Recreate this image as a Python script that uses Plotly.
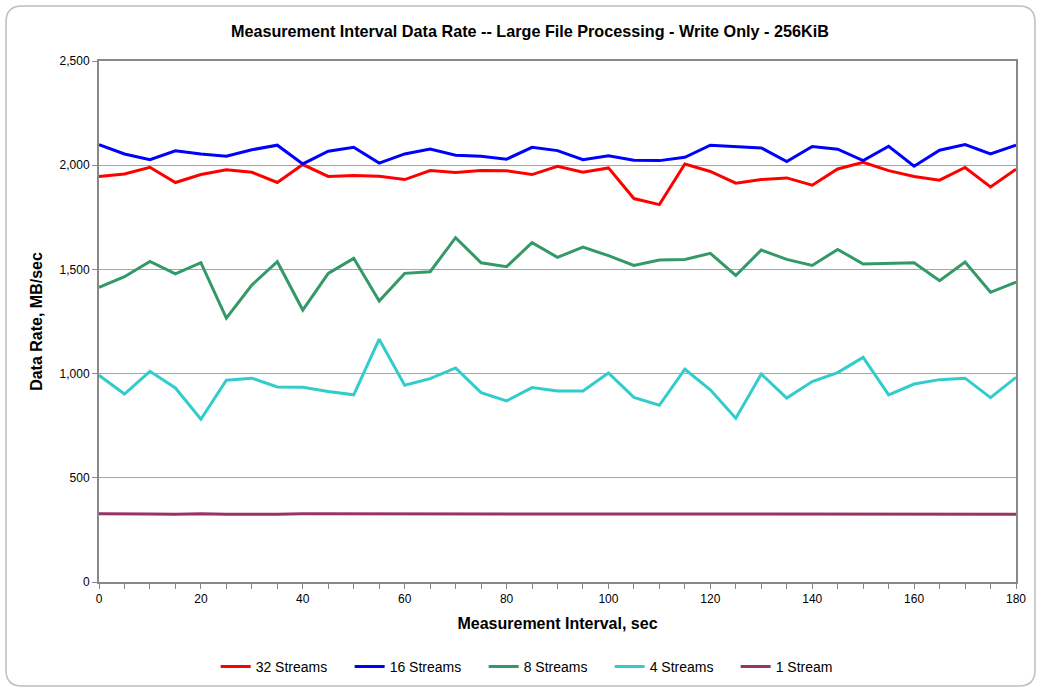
import plotly.graph_objects as go

# ── Data ─────────────────────────────────────────────────────────────────────
intervals = list(range(0, 181, 5))

streams_32 = [1946, 1958, 1990, 1917, 1955, 1978, 1966, 1917, 2003, 1946,
              1950, 1947, 1931, 1974, 1965, 1974, 1973, 1955, 1995, 1966,
              1987, 1840, 1811, 2006, 1970, 1914, 1931, 1939, 1904, 1982,
              2014, 1974, 1946, 1928, 1989, 1896, 1981]

streams_16 = [2098, 2054, 2026, 2069, 2054, 2043, 2074, 2096, 2006, 2067,
              2086, 2010, 2054, 2078, 2048, 2043, 2029, 2086, 2070, 2026,
              2045, 2024, 2022, 2038, 2096, 2091, 2083, 2018, 2090, 2077,
              2022, 2091, 1995, 2072, 2099, 2054, 2096]

streams_8 = [1414, 1465, 1538, 1479, 1532, 1266, 1425, 1537, 1305, 1481,
             1553, 1348, 1481, 1489, 1652, 1532, 1513, 1628, 1558, 1607,
             1566, 1519, 1545, 1548, 1577, 1471, 1593, 1548, 1519, 1596,
             1526, 1529, 1532, 1446, 1535, 1390, 1439]

streams_4 = [992, 902, 1011, 931, 781, 968, 978, 936, 934, 914,
             898, 1165, 944, 976, 1027, 909, 869, 933, 917, 917,
             1003, 886, 848, 1021, 922, 786, 998, 883, 962, 1005,
             1078, 898, 950, 971, 978, 885, 982]

stream_1 = [327, 325, 326, 325, 327, 325, 324, 325, 327, 327,
            326, 325, 328, 327, 325, 326, 327, 325, 326, 327,
            326, 325, 326, 327, 326, 325, 327, 325, 328, 325,
            325, 325, 325, 325, 327, 325, 325]

SERIES = [
    ("32 Streams", streams_32, "#FF0000", 89),
    ("16 Streams", streams_16, "#0000FF", 89),
    ("8 Streams", streams_8, "#339966", 81),
    ("4 Streams", streams_4, "#33CCCC", 81),
    ("1 Stream", stream_1, "#993366", 60),
]

FONT = "Liberation Sans, Arial, sans-serif"

fig = go.Figure()
for name, values, colour, legend_w in SERIES:
    fig.add_trace(go.Scatter(
        x=intervals,
        y=values,
        name=name,
        mode="lines",
        line=dict(color=colour, width=3),
        legendwidth=legend_w,
    ))

# outer rounded frame (paper coords relative to plot area 99..1016 x 61..582)
def _px(x):
    return (x - 99) / 917


def _py(y):
    return (582 - y) / 521


l, r, t, b, rad = 6, 1035, 6, 686, 16
frame = (
    f"M {_px(l + rad)},{_py(t)} L {_px(r - rad)},{_py(t)} "
    f"Q {_px(r)},{_py(t)} {_px(r)},{_py(t + rad)} "
    f"L {_px(r)},{_py(b - rad)} Q {_px(r)},{_py(b)} {_px(r - rad)},{_py(b)} "
    f"L {_px(l + rad)},{_py(b)} Q {_px(l)},{_py(b)} {_px(l)},{_py(b - rad)} "
    f"L {_px(l)},{_py(t + rad)} Q {_px(l)},{_py(t)} {_px(l + rad)},{_py(t)} Z"
)
fig.add_shape(type="path", path=frame, xref="paper", yref="paper",
              line=dict(color="#BFBFBF", width=1.5), layer="below")

fig.update_layout(
    width=1039,
    height=690,
    title=dict(
        text="<b>Measurement Interval Data Rate -- Large File Processing - Write Only - 256KiB</b>",
        x=0.51, xanchor="center", y=0.955, yanchor="middle",
        font=dict(family=FONT, size=16.2, color="black"),
    ),
    font=dict(family=FONT, size=12, color="black"),
    plot_bgcolor="white",
    paper_bgcolor="white",
    margin=dict(l=99, r=23, t=61, b=108, autoexpand=False),
    showlegend=True,
    legend=dict(
        orientation="h",
        x=0.468, xanchor="center",
        y=-0.163, yanchor="middle",
        font=dict(family=FONT, size=14, color="black"),
        itemwidth=30,
    ),
)

fig.update_xaxes(
    range=[0, 180],
    dtick=20,
    ticks="outside",
    ticklen=5,
    tickcolor="#888888",
    showgrid=False,
    showline=True,
    linecolor="#888888",
    linewidth=2,
    mirror=True,
    zeroline=False,
    automargin=False,
    minor=dict(dtick=5, ticks="outside", ticklen=5, tickcolor="#888888", showgrid=False),
    title=dict(text="<b>Measurement Interval, sec</b>", standoff=12,
               font=dict(family=FONT, size=16, color="black")),
)

fig.update_yaxes(
    range=[0, 2500],
    dtick=500,
    tickformat=",d",
    ticks="outside",
    ticklen=5,
    tickcolor="#888888",
    showgrid=True,
    gridcolor="#A6A6A6",
    gridwidth=1,
    showline=True,
    linecolor="#888888",
    linewidth=2,
    mirror=True,
    zeroline=False,
    automargin=False,
    title=dict(text="<b>Data Rate, MB/sec</b>", standoff=13,
               font=dict(family=FONT, size=16, color="black")),
)

fig.write_html(
    "out.html",
    config={"displayModeBar": False},
    post_script="document.body.style.margin='0';",
)
